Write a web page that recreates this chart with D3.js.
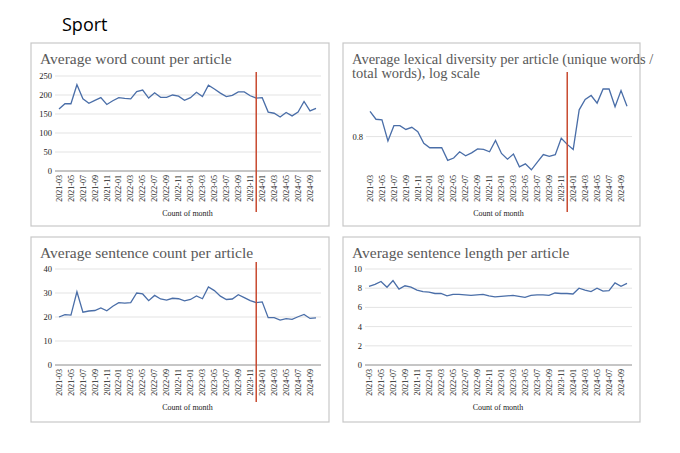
<!DOCTYPE html>
<html>
<head>
<meta charset="utf-8">
<script src="https://cdn.jsdelivr.net/npm/d3@7"></script>
<style>
  body { margin: 0; background: #fff; }
  text { font-family: "Liberation Serif", "DejaVu Serif", serif; }
</style>
</head>
<body>
<svg id="chart" width="680" height="453"></svg>
<script>
// months 2021-03 .. 2024-10
const months = [
  "2021-03","2021-04","2021-05","2021-06","2021-07","2021-08","2021-09","2021-10","2021-11","2021-12",
  "2022-01","2022-02","2022-03","2022-04","2022-05","2022-06","2022-07","2022-08","2022-09","2022-10","2022-11","2022-12",
  "2023-01","2023-02","2023-03","2023-04","2023-05","2023-06","2023-07","2023-08","2023-09","2023-10","2023-11","2023-12",
  "2024-01","2024-02","2024-03","2024-04","2024-05","2024-06","2024-07","2024-08","2024-09","2024-10"
];
const tickMonths = months.filter((m, i) => i % 2 === 0);
const markerMonth = "2023-12";

const wordCount = [163,177,177,227,190,178,186,193,175,185,
  193,191,190,209,213,192,206,194,194,200,197,186,
  193,207,196,226,216,205,196,199,208,208,198,192,
  193,155,152,142,154,145,155,183,158,165];

const lexicalDiversity = [0.847,0.832,0.831,0.792,0.820,0.820,0.813,0.817,0.809,0.788,
  0.780,0.780,0.780,0.758,0.762,0.773,0.766,0.771,0.778,0.777,0.773,0.793,
  0.770,0.760,0.769,0.747,0.752,0.742,0.755,0.768,0.765,0.768,0.797,0.786,
  0.777,0.850,0.870,0.878,0.863,0.891,0.891,0.856,0.888,0.857];

const sentenceCount = [20,21,20.8,30.5,22,22.5,22.7,23.8,22.6,24.5,
  26,25.8,26,30,29.6,26.8,29,27.5,27,27.8,27.6,26.7,
  27.3,28.8,27.6,32.5,31,28.7,27.3,27.5,29.3,28.1,26.8,26,
  26.3,19.7,19.7,18.7,19.3,19,20.1,21.1,19.4,19.6];

const sentenceLength = [8.2,8.4,8.7,8.1,8.8,7.9,8.25,8.1,7.8,7.65,
  7.6,7.45,7.45,7.2,7.35,7.35,7.3,7.25,7.3,7.35,7.2,7.1,
  7.15,7.2,7.25,7.15,7.05,7.25,7.3,7.3,7.25,7.5,7.45,7.45,
  7.4,8,7.8,7.65,8,7.7,7.75,8.55,8.2,8.5];

const svg = d3.select("#chart");

svg.append("text")
    .attr("x", 62).attr("y", 31)
    .style("font-family", "'Open Sans', sans-serif")
    .style("font-size", "18px")
    .text("Sport");

const panels = [
  { box: [31, 43, 298, 183], title: ["Average word count per article"], tsize: 15.5, values: wordCount,
    scale: d3.scaleLinear().domain([0, 250]), ticks: [0,50,100,150,200,250],
    plot: [59, 316, 171, 76], red: [72, 212], baseline: true },
  { box: [343, 43, 297, 183], title: ["Average lexical diversity per article (unique words /", "total words), log scale"],
    tsize: 14.5, values: lexicalDiversity, scale: d3.scaleLog().domain([0.74, 0.926]), ticks: [0.8],
    plot: [370, 627, 171, 72], red: [72, 212], baseline: false },
  { box: [31, 237, 298, 185], title: ["Average sentence count per article"], tsize: 15.5, values: sentenceCount,
    scale: d3.scaleLinear().domain([0, 40]), ticks: [0,10,20,30,40],
    plot: [59, 316, 365, 269], red: [262, 402], baseline: true },
  { box: [343, 237, 297, 185], title: ["Average sentence length per article"], tsize: 15.5, values: sentenceLength,
    scale: d3.scaleLinear().domain([0, 10]), ticks: [0,2,4,6,8,10],
    plot: [369, 627, 365, 269], red: null, baseline: true }
];

panels.forEach(p => {
  const g = svg.append("g");
  const [bx, by, bw, bh] = p.box;
  const [x0, x1, yb, yt] = p.plot;

  g.append("rect")
      .attr("x", bx).attr("y", by).attr("width", bw).attr("height", bh)
      .attr("fill", "#fff").attr("stroke", "#c8c8c8").attr("stroke-width", 1.2);

  g.selectAll(".ttl").data(p.title).enter().append("text")
      .attr("x", bx + 9).attr("y", (d, i) => by + 21 + i * 14)
      .attr("fill", "#595959").style("font-size", p.tsize + "px")
      .text(d => d);

  const x = d3.scalePoint().domain(months).range([x0, x1]);
  const y = p.scale.range([yb, yt]);

  // gridlines
  g.selectAll(".grid").data(p.ticks.filter(t => !(p.baseline && t === p.ticks[0]))).enter().append("line")
      .attr("x1", x0 - 4).attr("x2", x1 + 5)
      .attr("y1", d => y(d)).attr("y2", d => y(d))
      .attr("stroke", "#dcdcdc").attr("stroke-width", 0.8);

  g.selectAll(".yl").data(p.ticks).enter().append("text")
      .attr("x", x0 - 7).attr("y", d => y(d) + 3)
      .attr("text-anchor", "end").style("font-size", "8.5px").attr("fill", "#222")
      .text(d => d);

  if (p.baseline) {
    g.append("line")
        .attr("x1", x0 - 4).attr("x2", x1 + 5)
        .attr("y1", yb).attr("y2", yb)
        .attr("stroke", "#8c8c8c").attr("stroke-width", 1);
  }

  g.selectAll(".xl").data(tickMonths).enter().append("text")
      .attr("transform", d => `translate(${x(d) + 2.7},${yb + 4}) rotate(-90)`)
      .attr("text-anchor", "end").style("font-size", "8px").attr("fill", "#222")
      .text(d => d);

  g.append("text")
      .attr("x", (x0 + x1) / 2).attr("y", yb + 45)
      .attr("text-anchor", "middle").style("font-size", "8px").attr("fill", "#222")
      .text("Count of month");

  const line = d3.line().x((d, i) => x(months[i])).y(d => y(d));
  g.append("path")
      .datum(p.values)
      .attr("d", line)
      .attr("fill", "none").attr("stroke", "#4a6ea8").attr("stroke-width", 1.3);

  if (p.red) {
    g.append("line")
        .attr("x1", x(markerMonth)).attr("x2", x(markerMonth))
        .attr("y1", p.red[0]).attr("y2", p.red[1])
        .attr("stroke", "#c84a30").attr("stroke-width", 1.5);
  }
});
</script>
</body>
</html>
